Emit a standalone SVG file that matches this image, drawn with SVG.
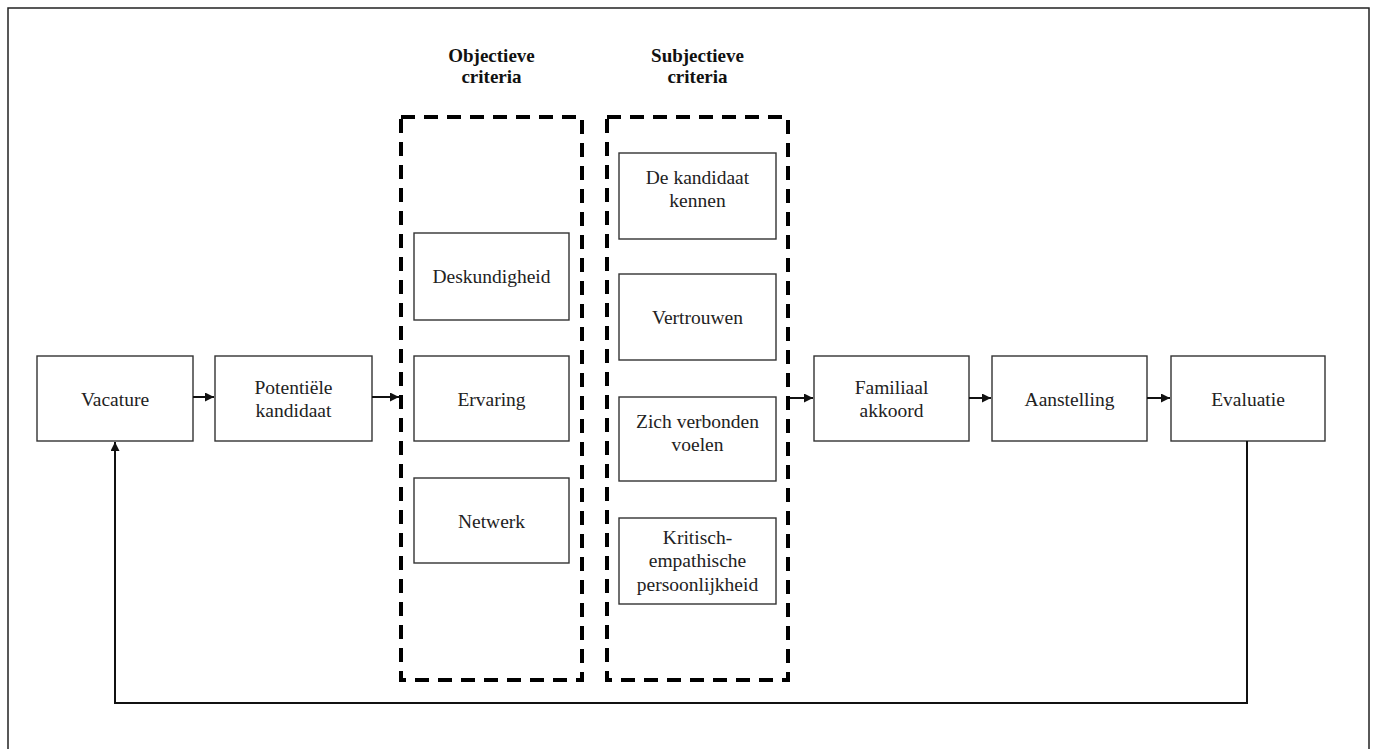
<svg xmlns="http://www.w3.org/2000/svg" width="1375" height="749" viewBox="0 0 1375 749">
<defs>
<style>
.box{fill:#fff;stroke:#333;stroke-width:1.4}
.dash{fill:none;stroke:#000;stroke-width:4;stroke-dasharray:14 9}
.t{font-family:"Liberation Serif","Times New Roman",serif;font-size:19.5px;fill:#222;text-anchor:middle}
.h{font-family:"Liberation Serif","Times New Roman",serif;font-size:19px;font-weight:bold;fill:#111;text-anchor:middle}
.c{fill:none;stroke:#111;stroke-width:2}
</style>
<marker id="ah" viewBox="0 0 10 10" refX="10" refY="5" markerWidth="4.5" markerHeight="4.5" orient="auto" markerUnits="strokeWidth">
<path d="M0,0 L10,5 L0,10 z" fill="#111"/>
</marker>
</defs>
<rect width="1375" height="749" fill="#fff"/>
<rect x="8" y="8" width="1361" height="760" fill="none" stroke="#222" stroke-width="1.5"/>

<g id="objectieve-group">
<text class="h" x="491.5" y="62">Objectieve</text>
<text class="h" x="491.5" y="83">criteria</text>
<rect class="dash" x="401" y="117" width="181" height="563"/>
</g>
<g id="subjectieve-group">
<text class="h" x="697.5" y="62">Subjectieve</text>
<text class="h" x="697.5" y="83">criteria</text>
<rect class="dash" x="607" y="117" width="181" height="563"/>
</g>

<g id="vacature"><rect class="box" x="37" y="356" width="156" height="85"/><text class="t" x="115" y="405.5">Vacature</text></g>
<g id="potentiele"><rect class="box" x="215" y="356" width="157" height="85"/><text class="t" x="293.5" y="394">Potentiële</text><text class="t" x="293.5" y="417">kandidaat</text></g>

<g id="deskundigheid"><rect class="box" x="414" y="233" width="155" height="87"/><text class="t" x="491.5" y="283">Deskundigheid</text></g>
<g id="ervaring"><rect class="box" x="414" y="356" width="155" height="85"/><text class="t" x="491.5" y="405.5">Ervaring</text></g>
<g id="netwerk"><rect class="box" x="414" y="478" width="155" height="85"/><text class="t" x="491.5" y="527.5">Netwerk</text></g>

<g id="kennen"><rect class="box" x="619" y="153" width="157" height="86"/><text class="t" x="697.5" y="184">De kandidaat</text><text class="t" x="697.5" y="207">kennen</text></g>
<g id="vertrouwen"><rect class="box" x="619" y="274" width="157" height="86"/><text class="t" x="697.5" y="323.5">Vertrouwen</text></g>
<g id="verbonden"><rect class="box" x="619" y="397" width="157" height="84"/><text class="t" x="697.5" y="428">Zich verbonden</text><text class="t" x="697.5" y="451">voelen</text></g>
<g id="kritisch"><rect class="box" x="619" y="518" width="157" height="86"/><text class="t" x="697.5" y="544">Kritisch-</text><text class="t" x="697.5" y="567">empathische</text><text class="t" x="697.5" y="591">persoonlijkheid</text></g>

<g id="familiaal"><rect class="box" x="814" y="356" width="155" height="85"/><text class="t" x="891.5" y="394">Familiaal</text><text class="t" x="891.5" y="417">akkoord</text></g>
<g id="aanstelling"><rect class="box" x="992" y="356" width="155" height="85"/><text class="t" x="1069.5" y="405.5">Aanstelling</text></g>
<g id="evaluatie"><rect class="box" x="1171" y="356" width="154" height="85"/><text class="t" x="1248" y="405.5">Evaluatie</text></g>

<g id="connectors">
<line class="c" x1="193" y1="397" x2="214" y2="397" marker-end="url(#ah)"/>
<line class="c" x1="372" y1="397" x2="399" y2="397" marker-end="url(#ah)"/>
<line class="c" x1="790" y1="398" x2="813" y2="398" marker-end="url(#ah)"/>
<line class="c" x1="969" y1="398" x2="991" y2="398" marker-end="url(#ah)"/>
<line class="c" x1="1147" y1="398" x2="1170" y2="398" marker-end="url(#ah)"/>
<polyline class="c" points="1247,441 1247,703 115,703 115,442" marker-end="url(#ah)"/>
</g>
</svg>
